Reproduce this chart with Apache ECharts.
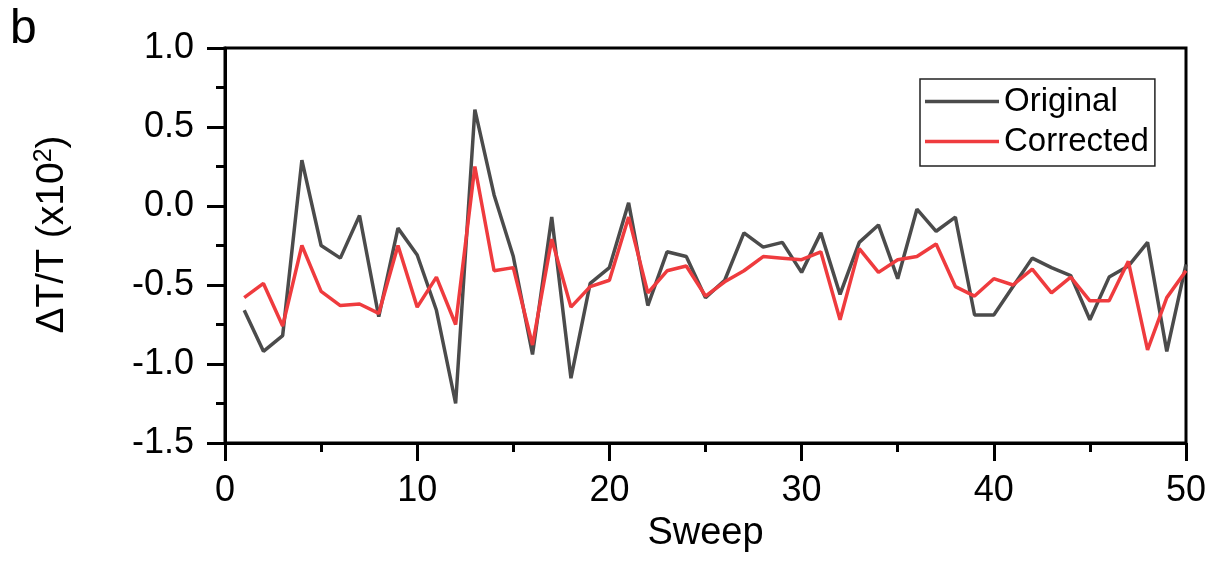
<!DOCTYPE html>
<html>
<head>
<meta charset="utf-8">
<script src="https://cdn.jsdelivr.net/npm/echarts@6/dist/echarts.min.js"></script>
<style>
html,body{margin:0;padding:0;background:#fff;}
#chart{width:1227px;height:565px;}
</style>
</head>
<body>
<div id="chart"></div>
<script>
const sweeps = Array.from({length: 50}, (_, i) => i + 1);
const original = [-0.66,-0.92,-0.82,0.29,-0.25,-0.33,-0.06,-0.70,-0.14,-0.31,
  -0.66,-1.25,0.61,0.07,-0.32,-0.94,-0.07,-1.09,-0.49,-0.39,
  0.02,-0.63,-0.29,-0.32,-0.58,-0.47,-0.17,-0.26,-0.23,-0.42,
  -0.17,-0.56,-0.23,-0.12,-0.46,-0.02,-0.16,-0.07,-0.69,-0.69,
  -0.51,-0.33,-0.39,-0.44,-0.72,-0.45,-0.38,-0.23,-0.92,-0.37];
const corrected = [-0.58,-0.49,-0.76,-0.25,-0.54,-0.63,-0.62,-0.68,-0.25,-0.64,
  -0.45,-0.75,0.25,-0.41,-0.39,-0.88,-0.21,-0.64,-0.51,-0.47,
  -0.07,-0.55,-0.41,-0.38,-0.57,-0.48,-0.41,-0.32,-0.33,-0.34,
  -0.29,-0.72,-0.27,-0.42,-0.34,-0.32,-0.24,-0.51,-0.57,-0.46,
  -0.50,-0.40,-0.55,-0.45,-0.60,-0.60,-0.35,-0.91,-0.58,-0.41];
const seriesNames = ['Original', 'Corrected'];
const xTicks = [0, 10, 20, 30, 40, 50];
const yTicks = [-1.5, -1.0, -0.5, 0.0, 0.5, 1.0];

const FONT = '"Liberation Sans", Arial, sans-serif';
const chart = echarts.init(document.getElementById('chart'), null, {renderer: 'canvas'});
const pair = arr => sweeps.map((s, i) => [s, arr[i]]);

chart.setOption({
  animation: false,
  backgroundColor: '#fff',
  textStyle: {fontFamily: FONT},
  grid: {left: 225, right: 41, top: 48, bottom: 122, show: true,
         borderColor: '#000', borderWidth: 3, backgroundColor: 'transparent'},
  graphic: [{type: 'text', left: 10, top: 6,
             style: {text: 'b', font: '48px ' + FONT, fill: '#000'}}],
  legend: {
    orient: 'vertical', left: 920, top: 79,
    data: seriesNames,
    icon: 'rect', itemWidth: 74, itemHeight: 3.5, itemGap: 7, itemTextGap: 14,
    padding: [6, 6, 8, 5],
    borderColor: '#222', borderWidth: 1.5, backgroundColor: '#fff',
    textStyle: {fontSize: 33, fontFamily: FONT, color: '#000', lineHeight: 33}
  },
  xAxis: {
    type: 'value', min: xTicks[0], max: xTicks[xTicks.length - 1], interval: 10,
    name: 'Sweep', nameLocation: 'middle', nameGap: 72,
    nameTextStyle: {fontSize: 38, color: '#000', fontFamily: FONT},
    axisLine: {show: true, onZero: false, lineStyle: {color: '#000', width: 3}},
    axisTick: {show: true, inside: false, length: 18, lineStyle: {color: '#000', width: 3}},
    minorTick: {show: true, splitNumber: 2, length: 9, lineStyle: {color: '#000', width: 3}},
    splitLine: {show: false},
    axisLabel: {fontSize: 36, color: '#000', margin: 30, fontFamily: FONT}
  },
  yAxis: {
    type: 'value', min: yTicks[0], max: yTicks[yTicks.length - 1], interval: 0.5,
    name: 'ΔT/T (x10{sup|2})', nameLocation: 'middle', nameGap: 152, nameRotate: 90,
    nameTextStyle: {fontSize: 39, color: '#000', fontFamily: FONT, padding: [0, 0, 0, 22],
      rich: {sup: {fontSize: 25, verticalAlign: 'top', padding: [0, 0, 16, 0], color: '#000', fontFamily: FONT}}},
    axisLine: {show: true, onZero: false, lineStyle: {color: '#000', width: 3}},
    axisTick: {show: true, inside: false, length: 18, lineStyle: {color: '#000', width: 3}},
    minorTick: {show: true, splitNumber: 2, length: 9, lineStyle: {color: '#000', width: 3}},
    splitLine: {show: false},
    axisLabel: {fontSize: 36, color: '#000', margin: 31, fontFamily: FONT,
                formatter: v => v.toFixed(1)}
  },
  series: [
    {name: seriesNames[0], type: 'line', data: pair(original), showSymbol: false, symbol: 'none',
     lineStyle: {color: '#4b4b4b', width: 3.5}, itemStyle: {color: '#4b4b4b'}},
    {name: seriesNames[1], type: 'line', data: pair(corrected), showSymbol: false, symbol: 'none',
     lineStyle: {color: '#ef3b3e', width: 3.5}, itemStyle: {color: '#ef3b3e'}}
  ]
});
</script>
</body>
</html>
